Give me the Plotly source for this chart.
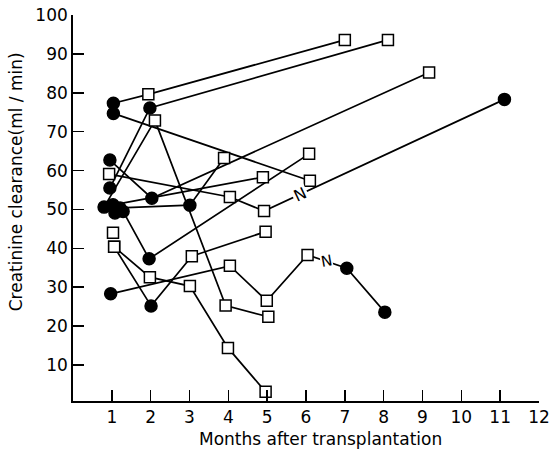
import plotly.graph_objects as go

# Each patient: months after transplantation, creatinine clearance (ml/min), marker kind
p1_month = [1.04, 1.94, 7.0]
p1_ccr = [77.3, 79.6, 93.6]
p1_mark = ["dot", "square", "square"]

p2_month = [0.95, 1.98, 8.11]
p2_ccr = [55.5, 76.1, 93.6]
p2_mark = ["dot", "dot", "square"]

p3_month = [1.04, 6.1]
p3_ccr = [74.7, 57.4]
p3_mark = ["dot", "square"]

p4_month = [0.95, 2.03, 9.17]
p4_ccr = [62.7, 52.9, 85.2]
p4_mark = ["dot", "dot", "square"]

p5_month = [0.93, 4.04, 4.92, 11.11]
p5_ccr = [59.1, 53.2, 49.6, 78.3]
p5_mark = ["square", "square", "square", "dot"]

p6_month = [0.8, 2.11, 3.93, 5.03]
p6_ccr = [50.6, 72.9, 25.3, 22.4]
p6_mark = ["dot", "square", "square", "square"]

p7_month = [1.21, 3.01, 3.89]
p7_ccr = [50.4, 51.1, 63.2]
p7_mark = ["dot", "dot", "square"]

p8_month = [1.03, 4.89]
p8_ccr = [51.2, 58.3]
p8_mark = ["dot", "square"]

p9_month = [1.29, 1.96, 6.08]
p9_ccr = [49.5, 37.3, 64.3]
p9_mark = ["dot", "dot", "square"]

p10_month = [1.08]
p10_ccr = [49.1]
p10_mark = ["dot"]

p11_month = [1.03]
p11_ccr = [44.0]
p11_mark = ["square"]

p12_month = [1.06, 1.98, 3.01, 3.99, 4.96]
p12_ccr = [40.4, 32.6, 30.3, 14.4, 3.1]
p12_mark = ["square", "square", "square", "square", "square"]

p13_month = [1.06, 2.01, 3.06, 4.96]
p13_ccr = [40.4, 25.2, 38.0, 44.3]
p13_mark = ["square", "dot", "square", "square"]

p14_month = [0.97, 4.04, 4.99, 6.04, 7.05, 8.03]
p14_ccr = [28.3, 35.5, 26.5, 38.3, 34.9, 23.6]
p14_mark = ["dot", "square", "square", "square", "dot", "dot"]

patients = [
    (p1_month, p1_ccr, p1_mark), (p2_month, p2_ccr, p2_mark),
    (p3_month, p3_ccr, p3_mark), (p4_month, p4_ccr, p4_mark),
    (p5_month, p5_ccr, p5_mark), (p6_month, p6_ccr, p6_mark),
    (p7_month, p7_ccr, p7_mark), (p8_month, p8_ccr, p8_mark),
    (p9_month, p9_ccr, p9_mark), (p10_month, p10_ccr, p10_mark),
    (p11_month, p11_ccr, p11_mark), (p12_month, p12_ccr, p12_mark),
    (p13_month, p13_ccr, p13_mark), (p14_month, p14_ccr, p14_mark),
]

x_ticks = list(range(1, 13))
y_ticks = list(range(10, 101, 10))

FONT = "DejaVu Sans"
fig = go.Figure()

# lines first
for m, c, k in patients:
    if len(m) > 1:
        fig.add_trace(go.Scatter(x=m, y=c, mode="lines",
                                 line=dict(color="black", width=1.7),
                                 hoverinfo="skip", showlegend=False))
# markers on top
for m, c, k in patients:
    fig.add_trace(go.Scatter(
        x=m, y=c, mode="markers", showlegend=False, hoverinfo="skip",
        marker=dict(
            symbol=["circle" if t == "dot" else "square" for t in k],
            color=["#000000" if t == "dot" else "#ffffff" for t in k],
            size=[12 if t == "dot" else 11 for t in k],
            opacity=1,
            line=dict(color="#000000", width=1.5),
        )))

# "N" labels on segments
def along(m, c, i, f):
    return m[i] + f * (m[i + 1] - m[i]), c[i] + f * (c[i + 1] - c[i])

nx1, ny1 = along(p5_month, p5_ccr, 2, 0.15)
nx2, ny2 = along(p14_month, p14_ccr, 3, 0.49)
fig.add_annotation(x=nx1, y=ny1, text="N", showarrow=False, textangle=-25,
                   font=dict(family=FONT, size=16, color="black"),
                   bgcolor="white", borderpad=1)
fig.add_annotation(x=nx2, y=ny2, text="N", showarrow=False, textangle=-10,
                   font=dict(family=FONT, size=15, color="black"),
                   bgcolor="white", borderpad=0)

fig.add_annotation(x=0.532, y=-0.098, xref="paper", yref="paper",
                   xanchor="center", yanchor="middle",
                   text="Months after transplantation", showarrow=False,
                   font=dict(family=FONT, size=17, color="black"))
fig.add_annotation(x=-0.122, y=0.567, xref="paper", yref="paper",
                   xanchor="center", yanchor="middle",
                   text="Creatinine clearance(ml / min)", showarrow=False,
                   textangle=-90, font=dict(family=FONT, size=17, color="black"))

axis_common = dict(showgrid=False, zeroline=False, showline=True,
                   linecolor="black", linewidth=1.8, ticks="inside",
                   ticklen=11, tickwidth=1.5, tickcolor="black",
                   automargin=False,
                   tickfont=dict(family=FONT, size=17, color="black"))

fig.update_xaxes(range=[0, 12], tickvals=x_ticks,
                 ticktext=[str(v) for v in x_ticks], **axis_common)
fig.update_yaxes(range=[0.75, 100], tickvals=y_ticks,
                 ticktext=[str(v) for v in y_ticks], **axis_common)

fig.update_layout(width=553, height=451, plot_bgcolor="white",
                  paper_bgcolor="white",
                  margin=dict(l=73, r=14, t=15, b=50, autoexpand=False))

fig.write_html("out.html",
               config={"displayModeBar": False, "staticPlot": True},
               post_script="document.body.style.margin='0';"
                           "document.body.style.overflow='hidden';")
